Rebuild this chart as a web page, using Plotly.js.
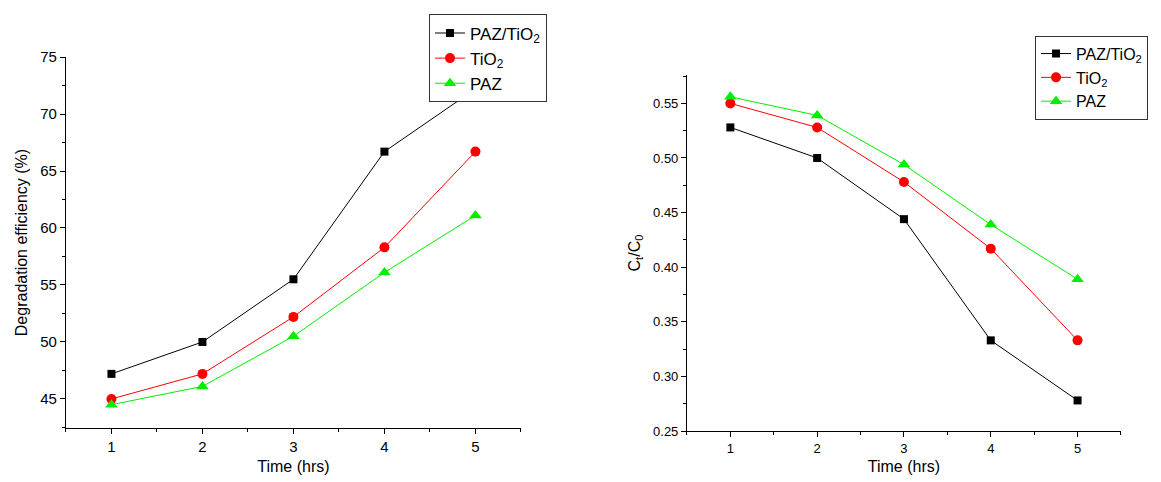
<!DOCTYPE html>
<html><head><meta charset="utf-8">
<script src="https://cdn.plot.ly/plotly-3.0.1.min.js"></script>
<style>body{margin:0;padding:0;background:#fff}#c{width:1161px;height:482px}</style>
</head><body><div id="c"></div>
<script>
const time = [1, 2, 3, 4, 5];
const seriesNames = ['PAZ/TiO<sub>2</sub>', 'TiO<sub>2</sub>', 'PAZ'];
const degPAZTiO2 = [47.2, 50.0, 55.5, 66.7, 72.2];
const degTiO2 = [45.0, 47.2, 52.2, 58.3, 66.7];
const degPAZ = [44.5, 46.1, 50.5, 56.1, 61.1];
const ctPAZTiO2 = [0.528, 0.500, 0.444, 0.333, 0.278];
const ctTiO2 = [0.550, 0.528, 0.478, 0.417, 0.333];
const ctPAZ = [0.556, 0.539, 0.494, 0.439, 0.389];

const colors = ['#000000', '#ff0000', '#00ee00'];
const symbols = ['square', 'circle', 'triangle-up'];
const sizes = [8, 10, 11];
function tr(y, i, xa, ya, leg) {
  return {x: time, y: y, name: seriesNames[i], type: 'scatter', mode: 'lines+markers',
    xaxis: xa, yaxis: ya, legend: leg,
    line: {color: colors[i], width: 1},
    marker: {color: colors[i], symbol: symbols[i], size: sizes[i]}};
}
const data = [
  tr(degPAZTiO2, 0, 'x', 'y', 'legend'),
  tr(degTiO2, 1, 'x', 'y', 'legend'),
  tr(degPAZ, 2, 'x', 'y', 'legend'),
  tr(ctPAZTiO2, 0, 'x2', 'y2', 'legend2'),
  tr(ctTiO2, 1, 'x2', 'y2', 'legend2'),
  tr(ctPAZ, 2, 'x2', 'y2', 'legend2')
];
const FAM = 'Liberation Sans, Arial, sans-serif';
const f = (s) => ({family: FAM, size: s, color: '#000'});
const ax = {showline: true, linecolor: '#000', linewidth: 1, showgrid: false, zeroline: false,
  ticks: 'outside', ticklen: 5, tickcolor: '#000', mirror: false};
const legBase = {bgcolor: '#fff', bordercolor: '#333', borderwidth: 1,
  xanchor: 'left', yanchor: 'top', tracegroupgap: 0, itemwidth: 30};
const layout = {
  width: 1161, height: 482, margin: {l: 0, r: 0, t: 0, b: 0},
  paper_bgcolor: '#fff', plot_bgcolor: '#fff', showlegend: true,
  font: f(13),
  xaxis: Object.assign({}, ax, {domain: [0.0568, 0.4487], range: [0.5, 5.5], tick0: 1, dtick: 1, tickfont: f(15),
    minor: {ticks: 'outside', ticklen: 3, dtick: 0.5, tick0: 0.5, tickcolor: '#000'},
    title: {text: 'Time (hrs)', font: f(16), standoff: 6}, anchor: 'y'}),
  yaxis: Object.assign({}, ax, {domain: [0.112, 0.8817], range: [42.45, 75], tick0: 45, dtick: 5, tickfont: f(15),
    minor: {ticks: 'outside', ticklen: 3, dtick: 2.5, tick0: 45, tickcolor: '#000'},
    title: {text: 'Degradation efficiency (%)', font: f(16), standoff: 8}, anchor: 'x'}),
  xaxis2: Object.assign({}, ax, {domain: [0.5917, 0.9655], range: [0.5, 5.5], tick0: 1, dtick: 1, tickfont: f(13),
    minor: {ticks: 'outside', ticklen: 3, dtick: 0.5, tick0: 0.5, tickcolor: '#000'},
    title: {text: 'Time (hrs)', font: f(16), standoff: 6}, anchor: 'y2'}),
  yaxis2: Object.assign({}, ax, {domain: [0.1058, 0.8444], range: [0.25, 0.576], tick0: 0.25, dtick: 0.05, tickformat: '.2f', tickfont: f(13),
    minor: {ticks: 'outside', ticklen: 3, dtick: 0.025, tick0: 0.25, tickcolor: '#000'},
    title: {text: 'C<sub>t</sub>/C<sub>0</sub>', font: f(16), standoff: 8}, anchor: 'x2'}),
  legend: Object.assign({}, legBase, {x: 0.3695, y: 0.970, font: f(17)}),
  legend2: Object.assign({}, legBase, {x: 0.8915, y: 0.926, font: f(16)})
};
Plotly.newPlot('c', data, layout, {displayModeBar: false, staticPlot: true});
</script></body></html>
